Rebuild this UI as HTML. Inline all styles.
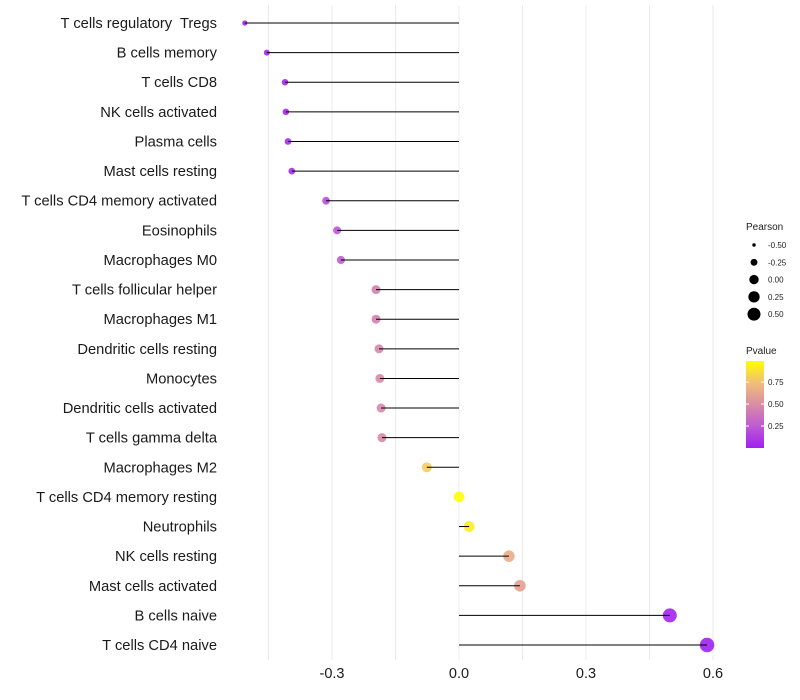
<!DOCTYPE html>
<html><head><meta charset="utf-8"><style>
body{margin:0;background:#fff;}
svg{display:block;font-family:"Liberation Sans",sans-serif;}
text{white-space:pre;}
</style></head><body>
<svg id="chart" width="800" height="700"></svg>
<script>
const categories=["T cells regulatory  Tregs","B cells memory","T cells CD8","NK cells activated","Plasma cells","Mast cells resting","T cells CD4 memory activated","Eosinophils","Macrophages M0","T cells follicular helper","Macrophages M1","Dendritic cells resting","Monocytes","Dendritic cells activated","T cells gamma delta","Macrophages M2","T cells CD4 memory resting","Neutrophils","NK cells resting","Mast cells activated","B cells naive","T cells CD4 naive"];
const pearson=[-0.506,-0.454,-0.411,-0.409,-0.404,-0.395,-0.314,-0.288,-0.279,-0.196,-0.196,-0.189,-0.187,-0.184,-0.182,-0.076,0.0,0.024,0.118,0.144,0.498,0.586];
const pvalue=[0.02,0.03,0.05,0.05,0.06,0.07,0.2,0.25,0.27,0.45,0.45,0.47,0.48,0.48,0.49,0.8,0.99,0.93,0.66,0.6,0.03,0.01];
const xTicks=[-0.3,0.0,0.3,0.6];
const xMinor=[-0.45,-0.15,0.15,0.45];
const sizeLegend=[-0.5,-0.25,0,0.25,0.5];
const colorTicks=[0.25,0.5,0.75];

const NS="http://www.w3.org/2000/svg";
const svg=document.getElementById('chart');
function el(t,a,p){const e=document.createElementNS(NS,t);for(const k in a)e.setAttribute(k,a[k]);(p||svg).appendChild(e);return e;}
const x=v=>459+v*423.3;
const y=i=>23+i*29.62;
const r=v=>Math.sqrt(Math.max(4,28+42*v));
const stops=[[0,[160,32,240]],[0.25,[190,90,210]],[0.5,[217,140,165]],[0.75,[240,190,120]],[1,[255,255,0]]];
function col(p){p=Math.max(0,Math.min(1,(p-0.01)/0.98));for(let i=1;i<stops.length;i++){if(p<=stops[i][0]){const a=stops[i-1],b=stops[i];const t=(p-a[0])/(b[0]-a[0]);const c=a[1].map((v,j)=>Math.round(v+(b[1][j]-v)*t));return `rgb(${c.join(',')})`;}}return 'rgb(255,255,0)';}

xMinor.concat(xTicks).forEach(v=>{const g=el('line',{x1:x(v),x2:x(v),y1:5,y2:660,stroke:'#ebebeb','stroke-width':1});

});
xTicks.forEach(v=>{const t=el('text',{x:x(v),y:678,'text-anchor':'middle','font-size':14.5,fill:'#1a1a1a'});t.textContent=v.toFixed(1);

});
categories.forEach((c,i)=>{const t=el('text',{x:217,y:y(i)+5,'text-anchor':'end','font-size':14.7,fill:'#1a1a1a'});t.textContent=c;


const pt=el('circle',{cx:x(pearson[i]),cy:y(i),r:r(pearson[i]),fill:col(pvalue[i]),'fill-opacity':0.9});


const s=el('line',{x1:x(0),x2:x(pearson[i]),y1:y(i),y2:y(i),stroke:'#000','stroke-width':1});

});

const lt=el('text',{x:746,y:230,'font-size':10,fill:'#222'});lt.textContent='Pearson';


const rl=v=>Math.sqrt(Math.max(3,22+40*v));
sizeLegend.forEach((v,i)=>{const cy=245+i*17.3;const c=el('circle',{cx:754,cy:cy,r:rl(v),fill:'#000'});


const t=el('text',{x:768,y:cy+3,'font-size':8,fill:'#222'});t.textContent=v.toFixed(2);

});

const ct=el('text',{x:746,y:354,'font-size':10,fill:'#222'});ct.textContent='Pvalue';


const defs=el('defs',{});const lg=el('linearGradient',{id:'cg',x1:0,y1:1,x2:0,y2:0},defs);
stops.forEach(s=>el('stop',{offset:s[0],'stop-color':`rgb(${s[1].join(',')})`},lg));
const cb=el('rect',{x:746,y:361,width:18,height:87,fill:'url(#cg)'});


const cy0=448,cyk=87/0.99;
colorTicks.forEach(v=>{const yy=cy0-v*cyk;el('line',{x1:746,x2:749,y1:yy,y2:yy,stroke:'#fff'});el('line',{x1:761,x2:764,y1:yy,y2:yy,stroke:'#fff'});
const t=el('text',{x:768,y:yy+3,'font-size':8,fill:'#222'});t.textContent=v.toFixed(2);

});
</script>
</body></html>
